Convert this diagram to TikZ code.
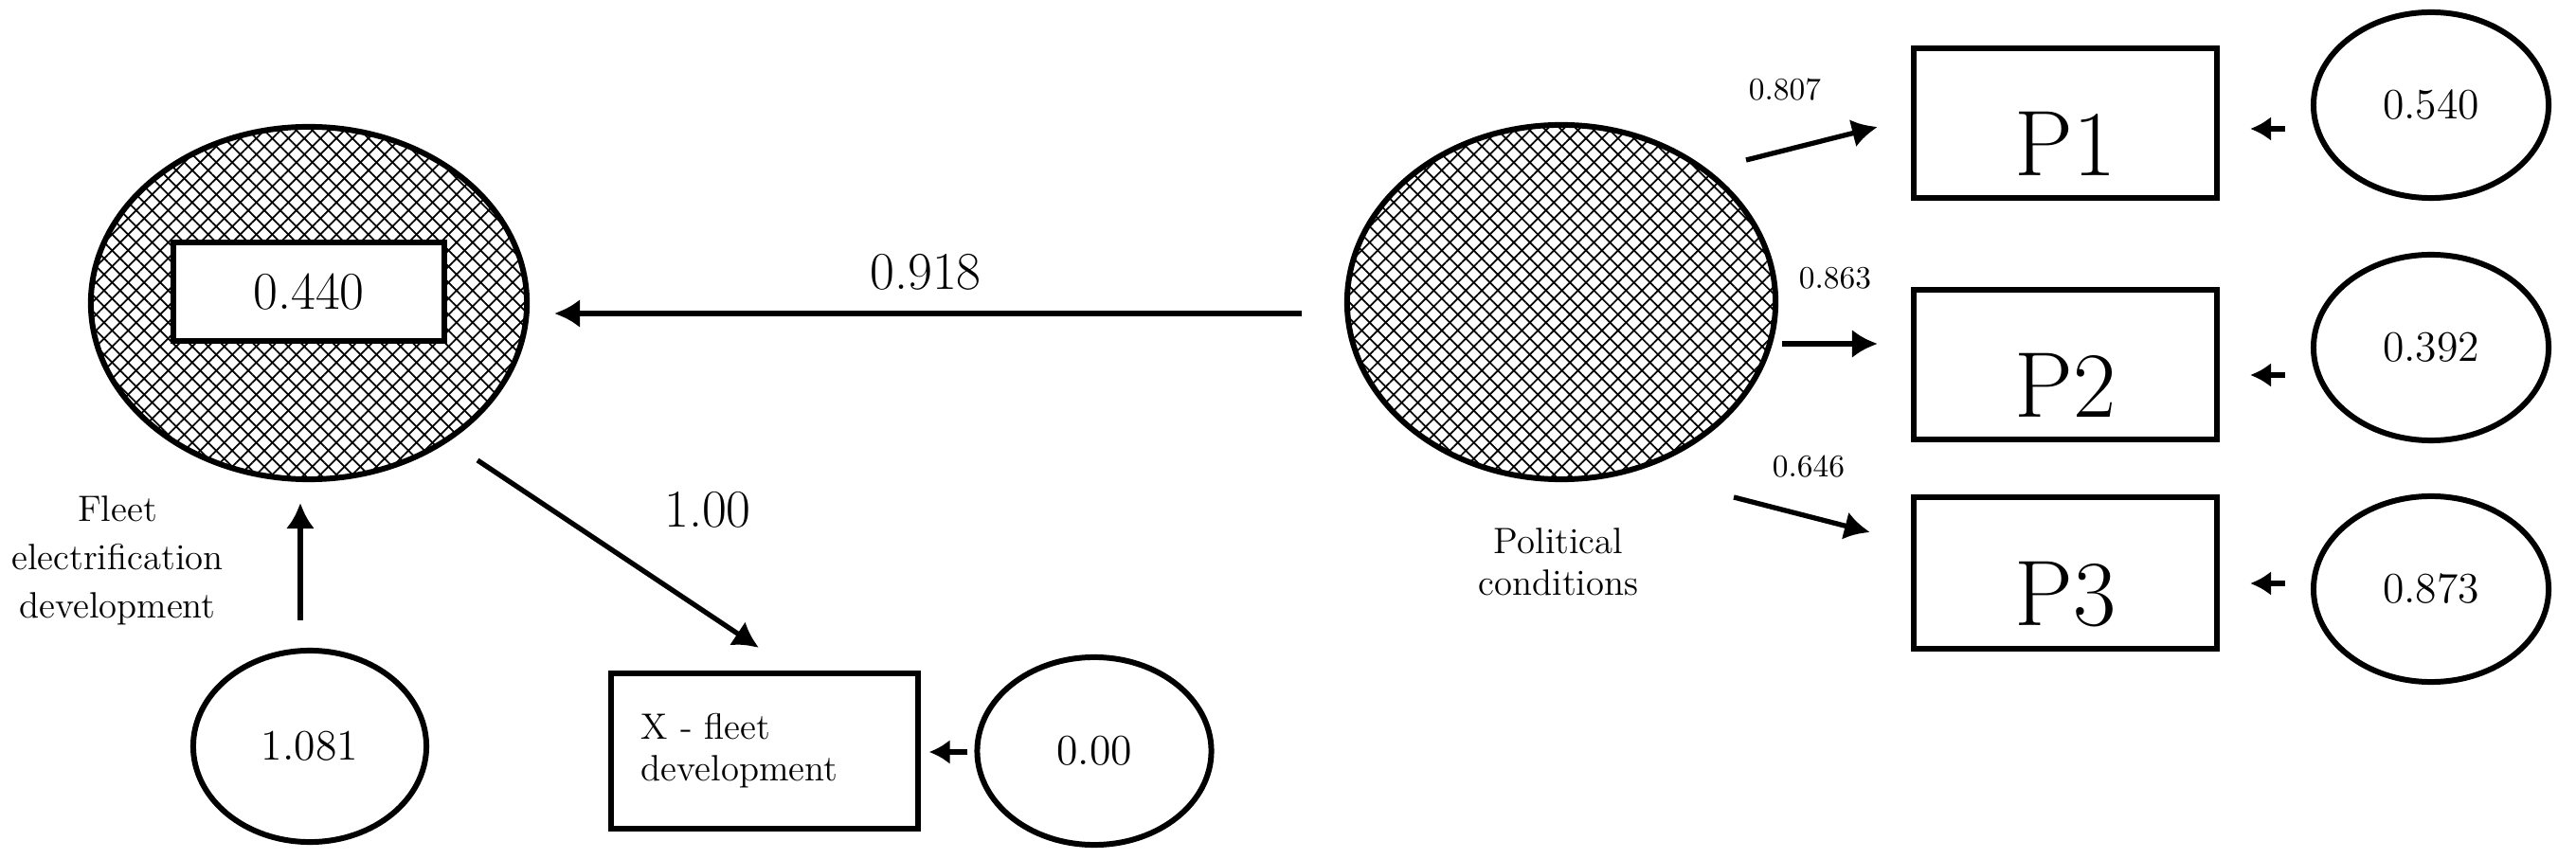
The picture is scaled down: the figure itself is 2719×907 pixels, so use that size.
\documentclass[tikz,border=0pt]{standalone}
\usepackage{tikz}
\usetikzlibrary{arrows.meta,shapes.geometric,patterns.meta}

\tikzset{
  latent/.style={ellipse, draw, line width=1.7pt, inner sep=0pt},
  hatched/.style={latent,
    preaction={pattern={Lines[angle=45,distance=3.4pt,line width=0.5pt]}},
    pattern={Lines[angle=-45,distance=3.4pt,line width=0.5pt]}},
  errvar/.style={latent, font=\fontsize{13}{15}\selectfont},
  obsbox/.style={rectangle, draw, line width=1.7pt, inner sep=0pt},
  indicator/.style={obsbox, font=\fontsize{28}{32}\selectfont, text height=31.6pt, text depth=0pt,
    minimum width=3.2cm},
  effect/.style={line width=1.5pt, -{Latex[length=0.27cm,width=0.3cm]}},
  stub/.style={line width=1.5pt, -{Latex[length=0.22cm,width=0.26cm]}},
  coef/.style={font=\fontsize{16}{19}\selectfont},
  loading/.style={font=\fontsize{9.5}{11}\selectfont},
  varname/.style={align=center, font=\fontsize{11}{12.5}\selectfont},
}

\begin{document}
\begin{tikzpicture}[x=0.01cm, y=-0.01cm]
    \useasboundingbox (0,0) rectangle (2719,907);

    % latent variables
    \node[hatched, minimum width=4.6cm, minimum height=3.72cm] (fleet) at (326,320) {};
    \node[obsbox, fill=white, coef, minimum width=2.86cm, minimum height=1.04cm] (rsq) at (326,308) {0.440};
    \node[hatched, minimum width=4.52cm, minimum height=3.74cm] (pol) at (1648,319) {};

    \node[varname] (fleetlbl) at (124,592) {Fleet\\[2pt]electrification\\[2pt]development};
    \node[varname] (pollbl) at (1645,593) {Political\\conditions};

    % indicators
    \node[indicator, minimum height=1.58cm] (p1) at (2180,130) {P1};
    \node[indicator, minimum height=1.57cm] (p2) at (2180,385) {P2};
    \node[indicator, minimum height=1.6cm] (p3) at (2180,605) {P3};
    \node[obsbox, varname, align=left, text width=2.6cm,
          minimum width=3.23cm, minimum height=1.64cm] (xfleet) at (807,793) {X - fleet\\development};

    % error terms
    \node[errvar, minimum width=2.48cm, minimum height=1.96cm] (e1) at (2566,111) {0.540};
    \node[errvar, minimum width=2.48cm, minimum height=1.96cm] (e2) at (2566,367) {0.392};
    \node[errvar, minimum width=2.48cm, minimum height=1.96cm] (e3) at (2566,622) {0.873};
    \node[errvar, minimum width=2.47cm, minimum height=1.98cm] (ex) at (1155,793) {0.00};
    \node[errvar, minimum width=2.46cm, minimum height=2.02cm] (dist) at (327,788) {1.081};

    % paths
    \draw[effect] ([shift={(-45,12)}]pol.west) -- ([shift={(28,11)}]fleet.east);
    \node[coef] at (977,287) {0.918};
    \draw[effect] ([shift={(178,166)}]fleet.center) -- ([shift={(-6,-24)}]xfleet.north);
    \node[coef] at (747,538) {1.00};
    \draw[effect] ([shift={(-10,-29)}]dist.north) -- ([shift={(-9,24)}]fleet.south);

    \draw[effect] ([shift={(195,-150)}]pol.center) -- ([shift={(-35,4)}]p1.west);
    \node[loading] at (1884,95) {0.807};
    \draw[effect] ([shift={(233,44)}]pol.center) -- ([shift={(-35,-22)}]p2.west);
    \node[loading] at (1937,294) {0.863};
    \draw[effect] ([shift={(182,206)}]pol.center) -- ([shift={(-43,-43)}]p3.west);
    \node[loading] at (1909,493) {0.646};

    \draw[stub] ([shift={(-27,25)}]e1.west) -- ([shift={(32,6)}]p1.east);
    \draw[stub] ([shift={(-27,29)}]e2.west) -- ([shift={(32,11)}]p2.east);
    \draw[stub] ([shift={(-27,-6)}]e3.west) -- ([shift={(32,11)}]p3.east);
    \draw[stub] ([shift={(-7,1)}]ex.west) -- ([shift={(9,1)}]xfleet.east);
\end{tikzpicture}
\end{document}
